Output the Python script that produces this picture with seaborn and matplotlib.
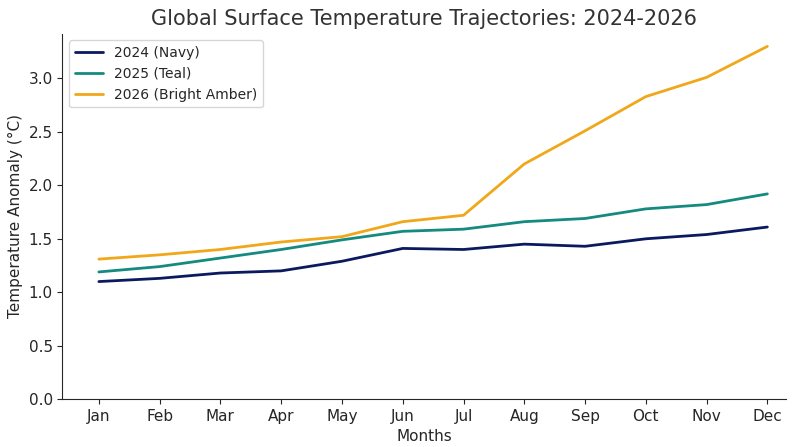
import pandas as pd
import matplotlib
matplotlib.use('Agg')
import matplotlib.pyplot as plt
import seaborn as sns

months = ['Jan', 'Feb', 'Mar', 'Apr', 'May', 'Jun', 'Jul', 'Aug', 'Sep', 'Oct', 'Nov', 'Dec']
t2024 = [1.10, 1.13, 1.18, 1.20, 1.29, 1.41, 1.40, 1.45, 1.43, 1.50, 1.54, 1.61]
t2025 = [1.19, 1.24, 1.32, 1.40, 1.49, 1.57, 1.59, 1.66, 1.69, 1.78, 1.82, 1.92]
t2026 = [1.31, 1.35, 1.40, 1.47, 1.52, 1.66, 1.72, 2.20, 2.51, 2.83, 3.01, 3.30]

df = pd.DataFrame({'month': months * 3,
                   'value': t2024 + t2025 + t2026,
                   'series': ['2024 (Navy)'] * 12 + ['2025 (Teal)'] * 12 + ['2026 (Bright Amber)'] * 12})

sns.set_style('ticks')
plt.rcParams['font.family'] = ['DejaVu Sans']
fig, ax = plt.subplots(figsize=(8, 4.47), dpi=100)
palette = ['#0b1a5e', '#148a80', '#f0a81a']
sns.lineplot(data=df, x='month', y='value', hue='series', palette=palette, linewidth=2, ax=ax, sort=False)

ax.set_title('Global Surface Temperature Trajectories: 2024-2026', fontsize=15, color='#333333')
ax.set_xlabel('Months', fontsize=11)
ax.set_ylabel('Temperature Anomaly (°C)', fontsize=11)
ax.set_ylim(0, 3.42)
ax.set_xlim(-0.6, 11.3)
ax.tick_params(labelsize=11)
sns.despine(ax=ax)
ax.legend(title=None, loc='upper left', fontsize=10)
fig.subplots_adjust(left=0.078, right=0.982, top=0.925, bottom=0.107)
fig.savefig('out.png')
